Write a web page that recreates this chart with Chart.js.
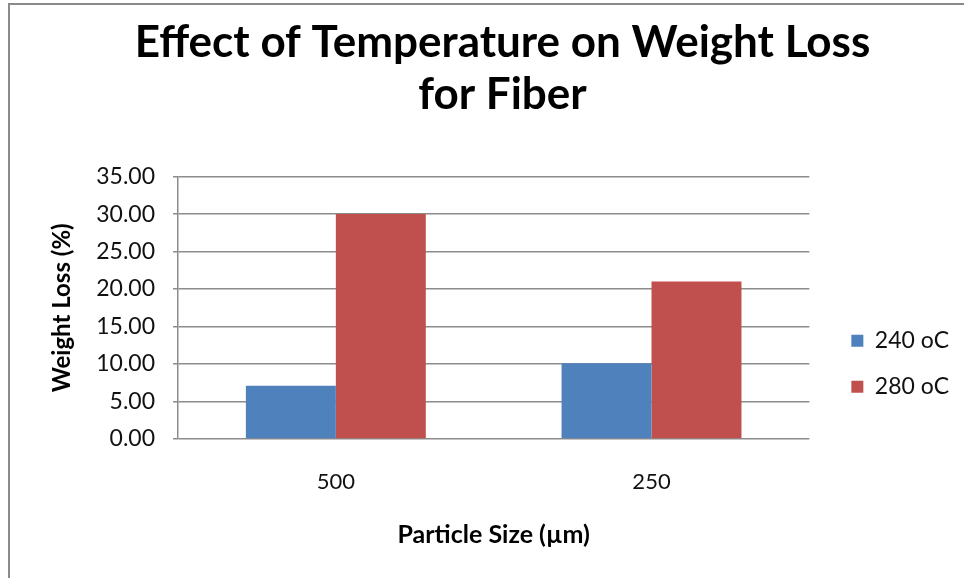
<!DOCTYPE html>
<html>
<head>
<meta charset="utf-8">
<script src="https://cdn.jsdelivr.net/npm/chart.js@4.4.1/dist/chart.umd.min.js"></script>
<style>
  html, body { margin: 0; padding: 0; background: #fff; overflow: hidden; }
  #wrap { position: relative; width: 964px; height: 578px; }
  #frame {
    position: absolute; left: 8px; top: 3px; width: 1200px; height: 800px;
    border-left: 2px solid #8a8a8a; border-top: 2px solid #8a8a8a;
    pointer-events: none;
  }
  canvas { position: absolute; left: 0; top: 0; }
</style>
</head>
<body>
<div id="wrap">
  <div id="frame"></div>
  <canvas id="chart" width="964" height="578"></canvas>
</div>
<script>
// Particle sizes (µm) on the category axis
const particleSizes = ['500', '250'];
// Weight loss (%) at each temperature
const loss240 = [7.1, 10.1];
const loss280 = [30.0, 21.0];
const seriesNames = ['240 oC', '280 oC'];
// Value axis range
const yMin = 0;
const yMax = 35;
const yStep = 5;

const gridColor = '#8c8c8c';
const textColor = '#111';

Chart.defaults.font.family = 'Lato, "Open Sans", sans-serif';
Chart.defaults.color = textColor;

new Chart(document.getElementById('chart'), {
  type: 'bar',
  data: {
    labels: particleSizes,
    datasets: [
      { label: seriesNames[0], data: loss240, backgroundColor: '#4f81bd', borderWidth: 0 },
      { label: seriesNames[1], data: loss280, backgroundColor: '#c0504d', borderWidth: 0 }
    ]
  },
  options: {
    responsive: false,
    animation: false,
    categoryPercentage: 0.57,
    barPercentage: 1.0,
    layout: { padding: { left: 46, right: 5, top: 0, bottom: 0 } },
    plugins: {
      tooltip: { enabled: false },
      title: {
        display: true,
        text: ['Effect of Temperature on Weight Loss', 'for Fiber'],
        color: '#000',
        font: { size: 44, weight: 'bold', lineHeight: 1.2 },
        padding: { top: 16, bottom: 55 }
      },
      legend: {
        display: true,
        position: 'right',
        fullSize: false,
        align: 'center',
        title: { display: true, text: ' ', font: { size: 2, lineHeight: 1 }, padding: { top: 110, bottom: 0 } },
        labels: {
          boxWidth: 12,
          boxHeight: 12,
          padding: 23,
          color: textColor,
          font: { size: 23 }
        }
      }
    },
    scales: {
      x: {
        grid: { display: false, drawTicks: false },
        border: { display: false },
        ticks: { padding: 30, font: { size: 22 }, color: textColor },
        title: {
          display: true,
          text: 'Particle Size (µm)',
          color: '#000',
          font: { size: 25, weight: 'bold', lineHeight: 1.2 },
          padding: { top: 0, bottom: 28 }
        },
        afterFit(scale) { scale.height = 139; }
      },
      y: {
        min: yMin,
        max: yMax,
        ticks: {
          stepSize: yStep,
          padding: 18,
          font: { size: 23 },
          color: textColor,
          callback: (v) => Number(v).toFixed(2)
        },
        grid: { color: gridColor, lineWidth: 1.5, tickLength: 5, drawTicks: true },
        border: { display: true, color: gridColor, width: 1.5 },
        title: {
          display: true,
          text: 'Weight Loss (%)',
          color: '#000',
          font: { size: 24, weight: 'bold', lineHeight: 1.2 },
          padding: { top: 2, bottom: 0 }
        },
        afterFit(scale) { scale.width = 132; }
      },
      gap: {
        position: 'right',
        display: true,
        grid: { display: false, drawTicks: false },
        border: { display: false },
        ticks: { display: false },
        afterFit(scale) { scale.width = 19; }
      }
    }
  }
});
</script>
</body>
</html>
